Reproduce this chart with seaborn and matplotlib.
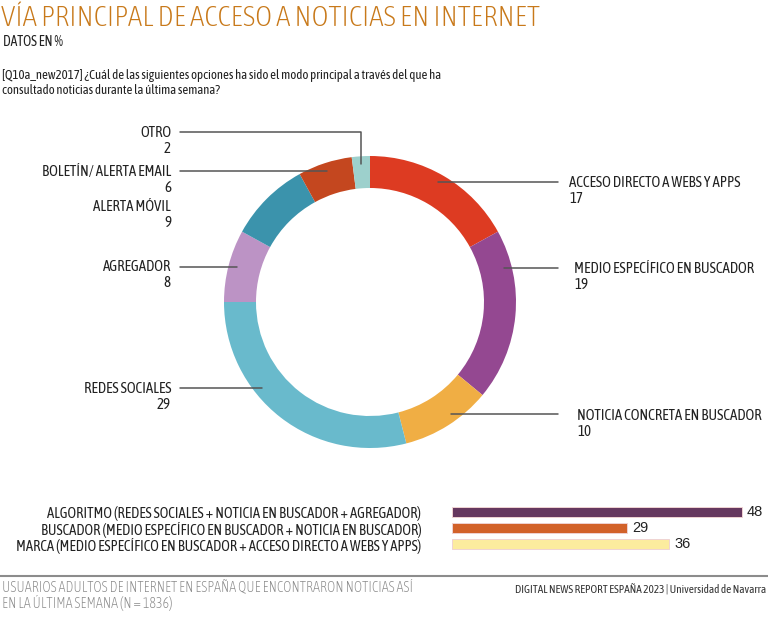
import numpy as np
import pandas as pd
import matplotlib.pyplot as plt
import seaborn as sns
from matplotlib.lines import Line2D

# Datos del donut (orden horario desde las 12)
categorias = ['ACCESO DIRECTO A WEBS Y APPS', 'MEDIO ESPECÍFICO EN BUSCADOR',
              'NOTICIA CONCRETA EN BUSCADOR', 'REDES SOCIALES', 'AGREGADOR',
              'ALERTA MÓVIL', 'BOLETÍN/ ALERTA EMAIL', 'OTRO']
valores = [17, 19, 10, 29, 8, 9, 6, 2]
colores = ['#DD3B22', '#944891', '#F0AE44', '#69BACC', '#BC93C5',
           '#3B93AC', '#C4471F', '#9DD0CC']

# Datos de las barras
barras_etiquetas = ['ALGORITMO (REDES SOCIALES + NOTICIA EN BUSCADOR + AGREGADOR)',
                    'BUSCADOR (MEDIO ESPECÍFICO EN BUSCADOR + NOTICIA EN BUSCADOR)',
                    'MARCA (MEDIO ESPECÍFICO EN BUSCADOR + ACCESO DIRECTO A WEBS Y APPS)']
barras_valores = [48, 29, 36]
barras_colores = ['#66385F', '#D2622A', '#FCEC9E']

sns.set_theme(style='white')
plt.rcParams['font.family'] = ['Asap Condensed', 'DejaVu Sans']

W, H = 768, 618
fig = plt.figure(figsize=(W / 100, H / 100), dpi=100)


def px(x, y):
    # pixeles (desde arriba a la izquierda) a fraccion de figura
    return x / W, 1 - y / H


TXT = '#222222'

# Titulos
fig.text(*px(1, 18), 'VÍA PRINCIPAL DE ACCESO A NOTICIAS EN INTERNET',
         color='#C8791A', fontsize=21, fontweight='light', va='center', ha='left')
fig.text(*px(3, 42), 'DATOS EN %', color=TXT, fontsize=9.8, va='center')
fig.text(*px(2, 75), '[Q10a_new2017] ¿Cuál de las siguientes opciones ha sido el modo principal a través del que ha',
         color=TXT, fontsize=9.3, va='center')
fig.text(*px(2, 90), 'consultado noticias durante la última semana?',
         color=TXT, fontsize=9.3, va='center')

# Donut
cx, cy, R = 370, 302, 146
ax_pie = fig.add_axes([(cx - 150) / W, (H - cy - 150) / H, 300 / W, 300 / H])
ax_pie.pie(valores, colors=colores, startangle=90, counterclock=False,
           radius=R / 150, wedgeprops=dict(width=32 / 150, linewidth=0))
ax_pie.set_xlim(-1, 1)
ax_pie.set_ylim(-1, 1)
ax_pie.axis('off')

# Etiquetas: (categoria, lado, x_texto, y_texto, y_linea)
etiquetas = [
    ('OTRO', 'izq', 171, 133, 132),
    ('BOLETÍN/ ALERTA EMAIL', 'izq', 171, 172, 171),
    ('ALERTA MÓVIL', 'izq', 171, 207, None),
    ('AGREGADOR', 'izq', 171, 267, 267),
    ('REDES SOCIALES', 'izq', 171, 389, 388),
    ('ACCESO DIRECTO A WEBS Y APPS', 'der', 569, 183, 182),
    ('MEDIO ESPECÍFICO EN BUSCADOR', 'der', 574, 269, 268),
    ('NOTICIA CONCRETA EN BUSCADOR', 'der', 577, 416, 414),
]
r_lin = 138
for nombre, lado, tx, ty, ly in etiquetas:
    v = valores[categorias.index(nombre)]
    ha = 'right' if lado == 'izq' else 'left'
    fig.text(*px(tx, ty), nombre, color=TXT, fontsize=10.7, ha=ha, va='center')
    fig.text(*px(tx, ty + 16), str(v), color=TXT, fontsize=10.7, ha=ha, va='center')
    if ly is None:
        continue
    if nombre == 'OTRO':
        # linea con codo hacia la porcion pequeña
        ang = np.deg2rad(90 - 360 * (100 - v / 2) / 100)
        xe = cx + r_lin * np.cos(ang)
        ye = cy - r_lin * np.sin(ang)
        xs, ys = [180, xe, xe], [ly, ly, ye]
    elif lado == 'izq':
        xe = cx - np.sqrt(r_lin ** 2 - (ly - cy) ** 2)
        xs, ys = [180, xe], [ly, ly]
    else:
        xe = cx + np.sqrt(r_lin ** 2 - (ly - cy) ** 2)
        xs, ys = [558, xe], [ly, ly]
    fx = [x / W for x in xs]
    fy = [1 - y / H for y in ys]
    fig.add_artist(Line2D(fx, fy, color='#555555', linewidth=1.1))

# Barras
df_barras = pd.DataFrame({'grupo': barras_etiquetas, 'valor': barras_valores})
ax_bar = fig.add_axes([452 / W, (H - 552) / H, 302 / W, 48 / H])
sns.barplot(data=df_barras, x='valor', y='grupo', hue='grupo', palette=barras_colores,
            legend=False, orient='h', width=0.62, ax=ax_bar, saturation=1,
            edgecolor='#EFD3D3', linewidth=0.7)
ax_bar.set_xlim(0, 50)
ax_bar.set_xlabel('')
ax_bar.set_ylabel('')
ax_bar.set_xticks([])
ax_bar.tick_params(axis='y', length=0, pad=22, labelsize=10.5, labelcolor=TXT)
for s in ax_bar.spines.values():
    s.set_visible(False)
for i, v in enumerate(barras_valores):
    ax_bar.text(v + 0.85, i, str(v), va='center', ha='left', fontsize=10.5, color=TXT,
                family=['Liberation Sans', 'DejaVu Sans'])

# Pie de figura
fig.add_artist(Line2D([0, 1], [1 - 576 / H, 1 - 576 / H], color='#8C8C8C', linewidth=1.5))
fig.text(*px(2, 587), 'USUARIOS ADULTOS DE INTERNET EN ESPAÑA QUE ENCONTRARON NOTICIAS ASÍ',
         color='#8A8A8A', fontsize=10.2, fontweight='light', va='center')
fig.text(*px(2, 603), 'EN LA ÚLTIMA SEMANA (N = 1836)', color='#8A8A8A', fontsize=10.2,
         fontweight='light', va='center')
fig.text(*px(766, 590), 'DIGITAL NEWS REPORT ESPAÑA 2023 | Universidad de Navarra',
         color='#333333', fontsize=8.1, ha='right', va='center')

fig.savefig('out.png', dpi=100)
